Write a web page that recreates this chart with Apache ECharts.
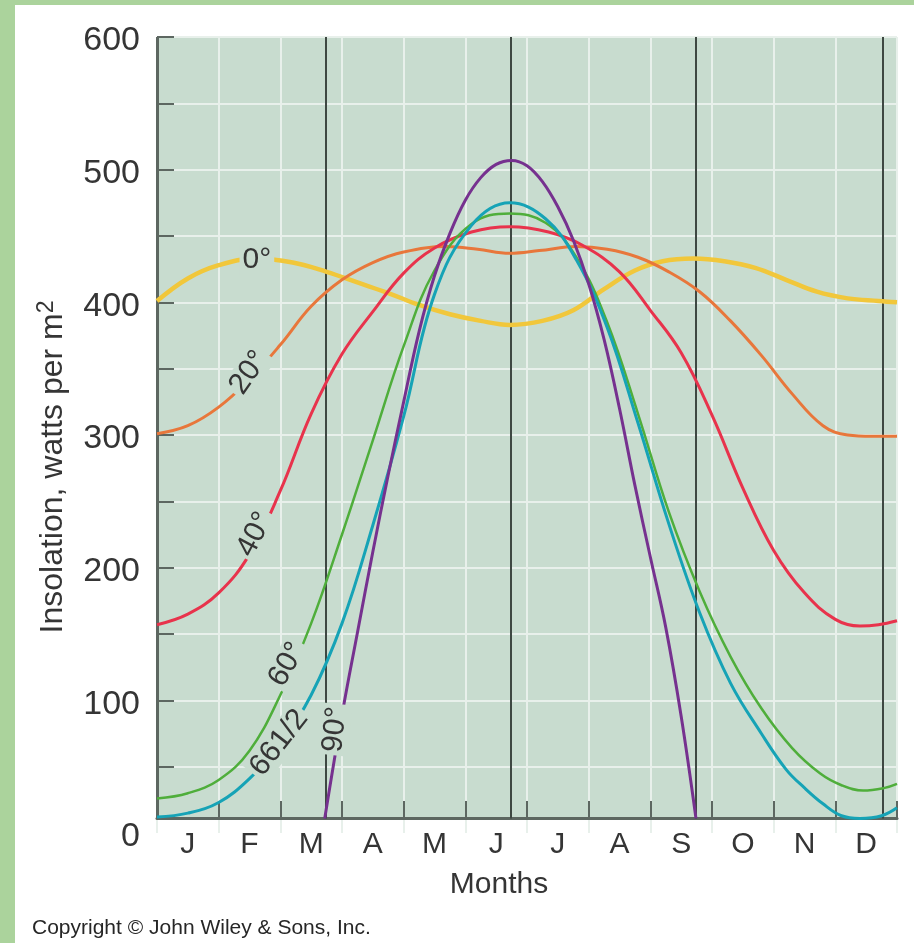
<!DOCTYPE html>
<html>
<head>
<meta charset="utf-8">
<script src="https://cdn.jsdelivr.net/npm/echarts@6/dist/echarts.min.js"></script>
<style>
  html, body { margin: 0; padding: 0; background: #abd39c; }
  #chart { position: absolute; left: 15px; top: 5px; width: 899px; height: 938px; background: #ffffff; }
</style>
</head>
<body>
<div id="chart"></div>
<script>
// month names on the x axis
const monthLabels = ['J', 'F', 'M', 'A', 'M', 'J', 'J', 'A', 'S', 'O', 'N', 'D'];
// equinoxes and solstices, in months from 1 January
const seasonMarks = [2.74, 5.74, 8.74, 11.77];
// y ticks
const yTickValues = [50, 100, 150, 200, 250, 300, 350, 400, 450, 500, 550, 600];
const plotBase = 11; // value where the drawn x axis sits

// insolation (W/m2) by latitude, [month, value]
const lat0 = [[0,401],[0.5,418],[1,428],[1.6,433],[2.2,430],[2.75,423],[3.25,415],[3.75,407],[4.25,398],[4.75,391],[5.25,386],[5.72,383],[6.25,386],[6.75,394],[7.25,410],[7.75,424],[8.2,431],[8.7,433],[9.2,431],[9.7,426],[10.2,417],[10.7,408],[11.2,403],[11.7,401],[12,400]];
const lat20 = [[0,301],[0.5,307],[1,321],[1.5,342],[2,368],[2.5,397],[3,417],[3.5,430],[4,438],[4.7,442],[5.2,440],[5.72,437],[6.2,439],[6.8,442],[7.3,440],[7.8,434],[8.3,423],[8.8,408],[9.3,386],[9.8,360],[10.3,331],[10.8,307],[11.2,300],[11.6,299],[12,299]];
const lat40 = [[0,157],[0.5,165],[1,181],[1.5,210],[2,258],[2.5,316],[3,361],[3.5,393],[4,422],[4.5,441],[5.1,453],[5.72,457],[6.35,453],[6.9,443],[7.5,423],[8,394],[8.5,362],[9,315],[9.5,260],[10,213],[10.5,181],[11,161],[11.4,156],[11.7,157],[12,160]];
const lat60 = [[0,26],[0.5,30],[1,40],[1.5,62],[2,104],[2.5,158],[3,225],[3.5,296],[4,367],[4.5,424],[5.1,459],[5.72,467],[6.3,460],[6.8,434],[7.3,385],[7.8,316],[8.3,242],[8.8,182],[9.3,133],[9.8,94],[10.3,64],[10.75,45],[11.1,36],[11.45,32],[11.8,34],[12,37]];
const lat66 = [[0,12],[0.5,15],[1,23],[1.5,41],[2,67],[2.5,104],[3,158],[3.5,232],[4,314],[4.5,406],[5.1,458],[5.72,475],[6.3,463],[6.8,432],[7.3,381],[7.8,309],[8.3,233],[8.8,166],[9.3,113],[9.8,75],[10.2,48],[10.5,34],[10.8,22],[11.1,13],[11.4,11],[11.75,13],[12,19]];
const lat90 = [[2.72,11],[3,89],[3.25,151],[3.5,212],[3.75,270],[4,325],[4.25,378],[4.5,420],[4.75,452],[5,477],[5.25,494],[5.5,504],[5.75,507],[6,503],[6.25,491],[6.5,472],[6.75,447],[7,414],[7.25,372],[7.5,320],[7.75,262],[8,208],[8.25,155],[8.5,88],[8.74,11]];

// in-line curve labels: text, anchor [month, value], rotation
const curveLabels = [
    { text: '0°', at: [1.62, 432], rotate: 0 },
    { text: '20°', at: [1.49, 347], rotate: 55 },
    { text: '40°', at: [1.59, 225], rotate: 62 },
    { text: '60°', at: [2.11, 127], rotate: 60 },
    { text: '661/2', at: [1.98, 68], rotate: 52 },
    { text: '90°', at: [2.89, 78], rotate: 84 }
];

const FONT = "'Liberation Sans', Arial, Helvetica, sans-serif";
const PLOT_BG = '#c8dccf';
const GRID_LINE = '#e8f0eb';
const AXIS_COLOR = '#5d6761';
const TEXT_COLOR = '#353535';

const chart = echarts.init(document.getElementById('chart'));

const makeSeries = (name, data, color, width, labelIdx) => {
    const lab = curveLabels[labelIdx];
    return {
        name,
        type: 'line',
        xAxisIndex: 1,
        data,
        smooth: 0.4,
        showSymbol: false,
        symbol: 'none',
        lineStyle: { color, width },
        z: 2,
        markPoint: {
            silent: true,
            symbol: 'circle',
            symbolSize: 0,
            z: 5,
            label: {
                show: true,
                position: 'inside',
                formatter: lab.text,
                rotate: lab.rotate,
                fontSize: 30,
                fontFamily: FONT,
                color: TEXT_COLOR,
                backgroundColor: PLOT_BG,
                padding: [0, 3]
            },
            data: [{ coord: lab.at }]
        }
    };
};

const series = [
    makeSeries('0°', lat0, '#f1c73b', 4.5, 0),
    makeSeries('20°', lat20, '#e8773b', 3, 1),
    makeSeries('40°', lat40, '#e8334c', 3, 2),
    makeSeries('60°', lat60, '#4fae3b', 2.5, 3),
    makeSeries('66.5°', lat66, '#16a3b6', 3, 4),
    makeSeries('90°', lat90, '#76318f', 3, 5)
];

// plot background, season lines and y axis line hang off the first series
series[0].markArea = {
    silent: true,
    z: -1,
    itemStyle: { color: PLOT_BG },
    data: [[{ coord: [0, plotBase] }, { coord: [12, 600] }]]
};
series[0].markLine = {
    silent: true,
    symbol: 'none',
    z: 1,
    label: { show: false },
    lineStyle: { color: '#3e4842', width: 2, type: 'solid' },
    data: seasonMarks.map(m => [{ coord: [m, plotBase] }, { coord: [m, 600] }]).concat([
        [{ coord: [0, plotBase], lineStyle: { color: AXIS_COLOR, width: 3, type: 'solid' } },
         { coord: [0, 600] }]
    ])
};

const option = {
    animation: false,
    backgroundColor: '#ffffff',
    grid: { left: 142, top: 32, width: 740, height: 796, containLabel: false },
    xAxis: [
        {
            type: 'category',
            data: monthLabels,
            boundaryGap: true,
            offset: -15,
            axisLine: { onZero: false, lineStyle: { color: AXIS_COLOR, width: 3 } },
            axisTick: { show: true, inside: true, length: 17, interval: 0, lineStyle: { color: AXIS_COLOR, width: 2 } },
            axisLabel: { interval: 0, fontSize: 30, fontFamily: FONT, color: TEXT_COLOR, margin: 12 },
            splitLine: { show: true, interval: 0, lineStyle: { color: GRID_LINE, width: 2 } }
        },
        { type: 'value', min: 0, max: 12, show: false }
    ],
    yAxis: {
        type: 'value',
        min: 0,
        max: 600,
        interval: 50,
        axisLine: { show: false },
        axisTick: { show: true, inside: true, length: 17, customValues: yTickValues, lineStyle: { color: AXIS_COLOR, width: 2 } },
        axisLabel: {
            formatter: v => (v % 100 === 0 ? '{v|' + v + '}' : ''),
            margin: 17,
            rich: {
                v: { fontSize: 34, fontFamily: FONT, color: TEXT_COLOR, padding: [8, 0, 0, 0] }
            }
        },
        splitLine: { show: true, lineStyle: { color: GRID_LINE, width: 2 } }
    },
    graphic: [
        {
            type: 'text',
            x: 38,
            y: 462,
            rotation: Math.PI / 2,
            style: {
                text: 'Insolation, watts per m{sup|2}',
                fontSize: 32,
                fontFamily: FONT,
                fill: TEXT_COLOR,
                align: 'center',
                verticalAlign: 'middle',
                rich: { sup: { fontSize: 23, fontFamily: FONT, fill: TEXT_COLOR, verticalAlign: 'top', padding: [0, 0, 12, 0] } }
            }
        },
        {
            type: 'text',
            x: 484,
            y: 880,
            style: { text: 'Months', fontSize: 30, fontFamily: FONT, fill: TEXT_COLOR, align: 'center', verticalAlign: 'middle' }
        },
        {
            type: 'text',
            x: 17,
            y: 923,
            style: { text: 'Copyright © John Wiley & Sons, Inc.', fontSize: 21, fontFamily: FONT, fill: '#262626', align: 'left', verticalAlign: 'middle' }
        }
    ],
    series
};

chart.setOption(option);
</script>
</body>
</html>
